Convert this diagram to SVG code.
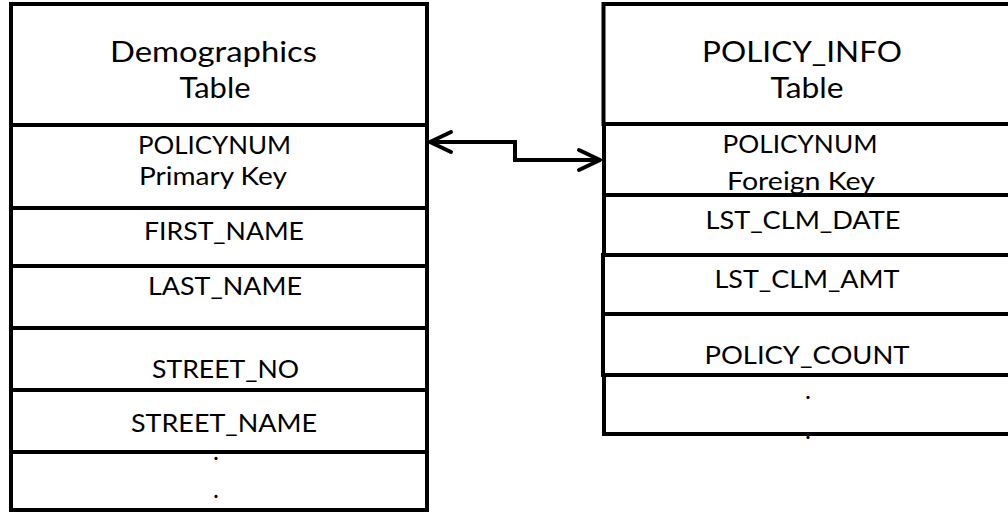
<svg xmlns="http://www.w3.org/2000/svg" width="1008" height="512" viewBox="0 0 1008 512">
  <style>
    .cell { fill: #ffffff; stroke: #000000; stroke-width: 4; }
    .hdr { font-family: Lato, "Open Sans", sans-serif; font-size: 28px; fill: #000000; text-anchor: middle; }
    .fld { font-family: Lato, "Open Sans", sans-serif; font-size: 25px; fill: #000000; text-anchor: middle; }
    .conn { fill: none; stroke: #000000; stroke-width: 4; stroke-linejoin: miter; }
  </style>
  <defs>
    <marker id="vhead" viewBox="0 0 30 30" refX="26" refY="15" markerWidth="30" markerHeight="30" markerUnits="userSpaceOnUse" orient="auto-start-reverse">
      <path d="M5,5 L26,15 L5,25" fill="none" stroke="#000000" stroke-width="4" stroke-linecap="round" stroke-linejoin="round"/>
    </marker>
  </defs>
  <rect x="0" y="0" width="1008" height="512" fill="#ffffff"/>

  <g id="demographics-table">
    <rect class="cell" x="11" y="4" width="416" height="121"/>
    <rect class="cell" x="11" y="125" width="416" height="83"/>
    <rect class="cell" x="11" y="208" width="416" height="58"/>
    <rect class="cell" x="11" y="266" width="416" height="62"/>
    <rect class="cell" x="11" y="328" width="416" height="62"/>
    <rect class="cell" x="11" y="390" width="416" height="62"/>
    <rect class="cell" x="11" y="452" width="416" height="58"/>
    <text class="hdr" x="213.5" y="62" textLength="207" lengthAdjust="spacingAndGlyphs">Demographics</text>
    <text class="hdr" x="215" y="98" textLength="71" lengthAdjust="spacingAndGlyphs">Table</text>
    <text class="fld" x="214.5" y="154" textLength="153" lengthAdjust="spacingAndGlyphs">POLICYNUM</text>
    <text class="fld" x="213" y="185" textLength="148" lengthAdjust="spacingAndGlyphs">Primary Key</text>
    <text class="fld" x="224" y="240" textLength="160" lengthAdjust="spacingAndGlyphs">FIRST_NAME</text>
    <text class="fld" x="225" y="295" textLength="154" lengthAdjust="spacingAndGlyphs">LAST_NAME</text>
    <text class="fld" x="225.5" y="378" textLength="147" lengthAdjust="spacingAndGlyphs">STREET_NO</text>
    <text class="fld" x="224" y="432" textLength="186" lengthAdjust="spacingAndGlyphs">STREET_NAME</text>
    <text class="fld" x="216" y="460">.</text>
    <text class="fld" x="216" y="498">.</text>
  </g>

  <g id="policy-info-table">
    <rect class="cell" x="603.5" y="4" width="410" height="120"/>
    <rect class="cell" x="604" y="124" width="410" height="71"/>
    <rect class="cell" x="604" y="195" width="410" height="60"/>
    <rect class="cell" x="603" y="255" width="410" height="59"/>
    <rect class="cell" x="603" y="314" width="410" height="61"/>
    <rect class="cell" x="604" y="375" width="410" height="59"/>
    <text class="hdr" x="802" y="62" textLength="200" lengthAdjust="spacingAndGlyphs">POLICY_INFO</text>
    <text class="hdr" x="807" y="98" textLength="73" lengthAdjust="spacingAndGlyphs">Table</text>
    <text class="fld" x="800" y="153" textLength="155" lengthAdjust="spacingAndGlyphs">POLICYNUM</text>
    <text class="fld" x="801" y="190" textLength="148" lengthAdjust="spacingAndGlyphs">Foreign Key</text>
    <text class="fld" x="803" y="229" textLength="195" lengthAdjust="spacingAndGlyphs">LST_CLM_DATE</text>
    <text class="fld" x="807" y="288" textLength="185" lengthAdjust="spacingAndGlyphs">LST_CLM_AMT</text>
    <text class="fld" x="807" y="364" textLength="205" lengthAdjust="spacingAndGlyphs">POLICY_COUNT</text>
    <text class="fld" x="808" y="399">.</text>
    <text class="fld" x="808" y="439">.</text>
  </g>

  <g id="connectors">
    <path class="conn" d="M430,142 H515 V160 H600" marker-start="url(#vhead)" marker-end="url(#vhead)"/>
  </g>
</svg>
